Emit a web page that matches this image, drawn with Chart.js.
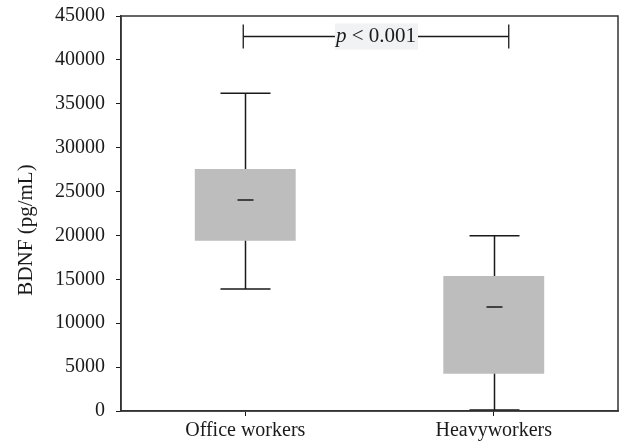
<!DOCTYPE html>
<html>
<head>
<meta charset="utf-8">
<script src="https://cdn.jsdelivr.net/npm/chart.js@4"></script>
<style>
  html, body { margin: 0; padding: 0; background: #fff; }
  #wrap { width: 621px; height: 442px; position: relative; }
</style>
</head>
<body>
<div id="wrap"><canvas id="bdnfChart"></canvas></div>
<script>
// data
const groups = ["Office workers", "Heavyworkers"];
const minVals = [13900, 100];
const q1Vals = [19400, 4250];
const medianVals = [24050, 11850];
const q3Vals = [27570, 15380];
const maxVals = [36200, 19970];
const yTicks = [0, 5000, 10000, 15000, 20000, 25000, 30000, 35000, 40000, 45000];
const bracketValue = 42750;
const pLabel = ["p", " < 0.001"];

const serif = "'Liberation Serif', 'DejaVu Serif', serif";
const ink = "#1a1a1a";

// whiskers, medians, frame and p-value bracket
const boxExtras = {
  id: "boxExtras",
  afterDatasetsDraw(chart) {
    const c = chart.ctx;
    const x = chart.scales.x;
    const y = chart.scales.y;
    const a = chart.chartArea;
    c.save();
    c.strokeStyle = ink;
    c.lineWidth = 1.5;
    groups.forEach((g, i) => {
      const cx = Math.round(x.getPixelForValue(i)) + 0.5;
      const yMin = y.getPixelForValue(minVals[i]);
      const yQ1 = y.getPixelForValue(q1Vals[i]);
      const yMed = y.getPixelForValue(medianVals[i]);
      const yQ3 = y.getPixelForValue(q3Vals[i]);
      const yMax = y.getPixelForValue(maxVals[i]);
      c.beginPath();
      c.moveTo(cx, yQ3); c.lineTo(cx, yMax);
      c.moveTo(cx - 25, yMax); c.lineTo(cx + 25, yMax);
      c.moveTo(cx, yQ1); c.lineTo(cx, yMin);
      c.moveTo(cx - 25, yMin); c.lineTo(cx + 25, yMin);
      c.moveTo(cx - 8, yMed); c.lineTo(cx + 8, yMed);
      c.stroke();
    });

    // frame
    c.strokeStyle = "#333";
    c.lineWidth = 1.5;
    c.strokeRect(a.left, a.top, a.right - a.left, a.bottom - a.top);

    // bracket
    const by = Math.round(y.getPixelForValue(bracketValue)) + 0.5;
    const bx1 = x.getPixelForValue(0) - 2;
    const bx2 = x.getPixelForValue(1) + 15;
    c.strokeStyle = ink;
    c.lineWidth = 1.3;
    c.beginPath();
    c.moveTo(bx1, by); c.lineTo(bx2, by);
    c.moveTo(bx1, by - 12); c.lineTo(bx1, by + 12);
    c.moveTo(bx2, by - 12); c.lineTo(bx2, by + 12);
    c.stroke();

    const fs = 21;
    c.font = "italic " + fs + "px " + serif;
    const w1 = c.measureText(pLabel[0]).width;
    c.font = fs + "px " + serif;
    const w2 = c.measureText(pLabel[1]).width;
    const mid = (bx1 + bx2) / 2;
    const tx = mid - (w1 + w2) / 2;
    c.fillStyle = "#f0f2f4";
    c.fillRect(tx - 1, by - 13, w1 + w2 + 3, 26);
    c.fillStyle = ink;
    c.textBaseline = "alphabetic";
    c.textAlign = "left";
    c.font = "italic " + fs + "px " + serif;
    c.fillText(pLabel[0], tx, by + 5);
    c.font = fs + "px " + serif;
    c.fillText(pLabel[1], tx + w1, by + 5);

    // y axis title
    c.save();
    c.translate(26, 230);
    c.rotate(-Math.PI / 2);
    c.textAlign = "center";
    c.textBaseline = "middle";
    c.font = "21px " + serif;
    c.fillText("BDNF (pg/mL)", 0, 0);
    c.restore();
    c.restore();
  }
};

const ctx = document.getElementById("bdnfChart");

new Chart(ctx, {
  type: "bar",
  data: {
    labels: groups,
    datasets: [
      {
        label: "IQR",
        data: groups.map((g, i) => [q1Vals[i], q3Vals[i]]),
        backgroundColor: "#bdbdbd",
        borderWidth: 0,
        barPercentage: 0.406,
        categoryPercentage: 1,
      },
    ],
  },
  options: {
    responsive: true,
    maintainAspectRatio: false,
    animation: false,
    layout: { padding: { top: 16, right: 3, left: 0, bottom: 0 } },
    plugins: {
      legend: { display: false },
      tooltip: { enabled: false },
    },
    scales: {
      x: {
        offset: true,
        afterFit(scale) { scale.height = 31; },
        grid: { display: true, offset: false, drawOnChartArea: false, tickLength: 5, color: ink },
        border: { color: "#333", width: 1.5 },
        ticks: { color: ink, padding: 3, font: { family: serif, size: 20 } },
      },
      y: {
        min: 0,
        max: 45000,
        afterFit(scale) {
          scale.width = 121;
          scale.paddingTop = 0;
          scale.paddingBottom = 0;
        },
        afterBuildTicks(scale) { scale.ticks = yTicks.map((v) => ({ value: v })); },
        grid: { display: true, drawOnChartArea: false, tickLength: 5, color: ink },
        border: { color: "#333", width: 1.5 },
        ticks: {
          color: ink,
          padding: 11,
          font: { family: serif, size: 20 },
          callback: (v) => String(v),
        },
      },
    },
  },
  plugins: [boxExtras],
});
</script>
</body>
</html>
